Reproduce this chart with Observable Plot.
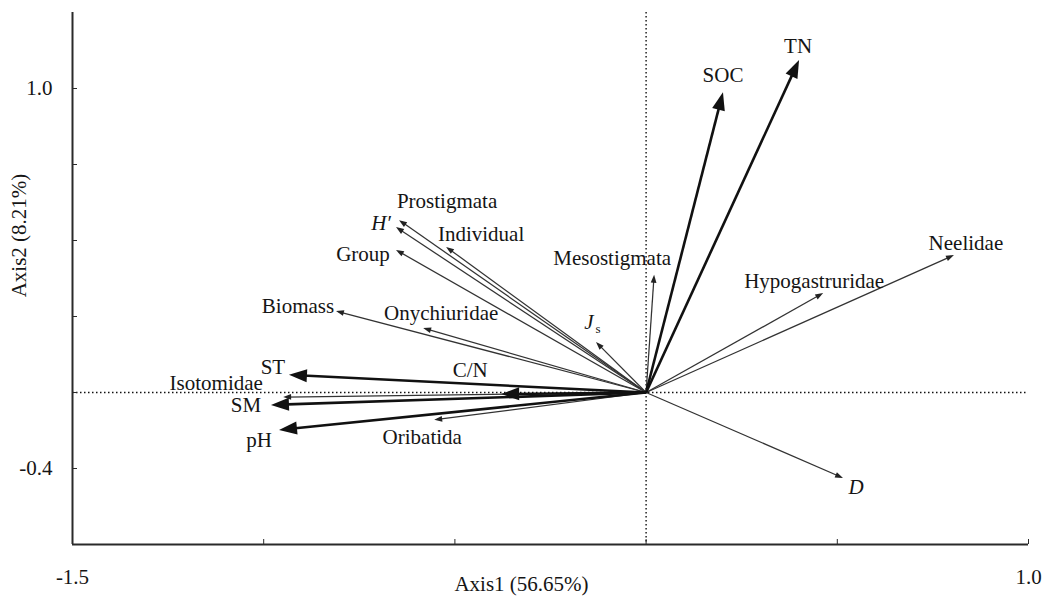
<!DOCTYPE html>
<html>
<head>
<meta charset="utf-8">
<script src="https://cdn.jsdelivr.net/npm/d3@7"></script>
<script src="https://cdn.jsdelivr.net/npm/@observablehq/plot@0.6"></script>
<style>
  html, body { margin: 0; padding: 0; background: #fff; }
  #chart svg { display: block; }
</style>
</head>
<body>
<div id="chart"></div>
<script>
// ---- Data (RDA biplot scores) ----
const names = ["TN", "SOC", "Mesostigmata", "Neelidae", "Hypogastruridae", "D", "J",
  "Prostigmata", "H′", "Individual", "Group", "Biomass", "Onychiuridae",
  "ST", "C/N", "Isotomidae", "SM", "pH", "Oribatida"];
const axis1 = [0.400, 0.201, 0.021, 0.805, 0.463, 0.515, -0.131,
  -0.646, -0.654, -0.523, -0.654, -0.811, -0.583,
  -0.934, -0.379, -0.949, -0.981, -0.960, -0.554];
const axis2 = [1.094, 0.988, 0.387, 0.452, 0.327, -0.281, 0.166,
  0.567, 0.544, 0.479, 0.469, 0.268, 0.212,
  0.058, -0.005, -0.015, -0.041, -0.123, -0.090];
const environmental = ["TN", "SOC", "ST", "C/N", "SM", "pH"];
const italicLabels = ["D", "J", "H′"];
const subscripts = {"J": "s"};

const xTicks = [-1.5, -1.0, -0.5, 0, 0.5, 1.0];
const xTickLabels = ["-1.5", "", "", "", "", "1.0"];
const yTicks = [1.0, 0.75, 0.5, 0.25, 0, -0.25];
const yTickLabels = ["1.0", "", "", "", "", "-0.4"];
const xTitle = "Axis1 (56.65%)";
const yTitle = "Axis2 (8.21%)";

// ---- Label nudges (pixels, styling only) ----
const labelNudge = {
  "TN": [-1, -14], "SOC": [0, -17], "Mesostigmata": [-42, -17], "Neelidae": [12, -12],
  "Hypogastruridae": [-9, -12], "D": [13, 9], "J": [-7, -20], "Prostigmata": [48, -19],
  "H′": [-15, -4], "Individual": [35, -13], "Group": [-33, 4], "Biomass": [-38, -5],
  "Onychiuridae": [18, -15], "ST": [-16, -8], "C/N": [-31, -24], "Isotomidae": [-67, -14],
  "SM": [-25, 0], "pH": [-20, 10], "Oribatida": [-12, 17]
};

// ---- Layout ----
const W = 1042, H = 599, ML = 72, MR = 14, MT = 12, MB = 55;
const xDomain = [-1.5, 1.0], yDomain = [-0.5, 1.25];
const kx = (W - ML - MR) / (xDomain[1] - xDomain[0]);
const ky = (H - MT - MB) / (yDomain[1] - yDomain[0]);
const FONT = "'Liberation Serif', 'Times New Roman', serif";
const FS = 21;
const INK = "#151515";

const rows = names.map((name, i) => {
  const x = axis1[i], y = axis2[i];
  const sx = x * kx, sy = -y * ky, len = Math.hypot(sx, sy);
  const env = environmental.includes(name);
  const back = env ? 9 : 3;
  return {
    name, x, y, env,
    angle: Math.atan2(sx, -sy) * 180 / Math.PI,
    xs: x - back * (sx / len) / kx,
    ys: y + back * (sy / len) / ky
  };
});

// arrowhead symbol: tip at the anchor point, pointing up before rotation
const headSymbol = {
  draw(ctx, size) {
    const r = Math.sqrt(size / Math.PI);
    ctx.moveTo(0, 0);
    ctx.lineTo(-r * 0.65, r * 1.8);
    ctx.lineTo(r * 0.65, r * 1.8);
    ctx.closePath();
  }
};

const envRows = rows.filter(d => d.env);
const bioRows = rows.filter(d => !d.env);

const textMarks = rows.map(d => {
  const [dx, dy] = labelNudge[d.name];
  return Plot.text([d], {
    x: "x", y: "y", text: "name", dx, dy,
    fontSize: FS, fill: INK,
    fontStyle: italicLabels.includes(d.name) ? "italic" : "normal"
  });
});
const subMarks = rows.filter(d => subscripts[d.name]).map(d => {
  const [dx, dy] = labelNudge[d.name];
  return Plot.text([d], {
    x: "x", y: "y", text: () => subscripts[d.name], dx: dx + 9, dy: dy + 7,
    fontSize: 13, fill: INK
  });
});

const chart = Plot.plot({
  width: W, height: H,
  marginLeft: ML, marginRight: MR, marginTop: MT, marginBottom: MB,
  style: {fontFamily: FONT, background: "#fff", color: INK},
  x: {domain: xDomain},
  y: {domain: yDomain},
  marks: [
    // zero lines (dotted)
    Plot.ruleX([0], {stroke: "#111", strokeWidth: 1.4, strokeDasharray: "1.5,2.5"}),
    Plot.ruleY([0], {stroke: "#111", strokeWidth: 1.4, strokeDasharray: "1.5,2.5"}),
    // axis lines
    Plot.ruleX([xDomain[0]], {stroke: "#2a2a2a", strokeWidth: 2}),
    Plot.ruleY([yDomain[0]], {stroke: "#2a2a2a", strokeWidth: 2}),
    // inward ticks
    Plot.axisX({ticks: xTicks, tickSize: -5, tickFormat: () => "", label: null, stroke: "#2a2a2a"}),
    Plot.axisY({ticks: yTicks, tickSize: -5, tickFormat: () => "", label: null, stroke: "#2a2a2a"}),
    // tick labels
    Plot.axisX({ticks: xTicks.filter((t, i) => xTickLabels[i]), tickSize: 0, tickPadding: 25,
      tickFormat: t => xTickLabels[xTicks.indexOf(t)], label: null, fontSize: FS}),
    Plot.axisY({ticks: yTicks.filter((t, i) => yTickLabels[i]), tickSize: 0, tickPadding: 20,
      tickFormat: t => yTickLabels[yTicks.indexOf(t)], label: null, fontSize: FS}),
    // axis titles
    Plot.text([xTitle], {frameAnchor: "bottom", dx: -29, dy: 46, fontSize: FS, fill: INK}),
    Plot.text([yTitle], {frameAnchor: "left", textAnchor: "middle", rotate: -90, dx: -53, dy: -43, fontSize: FS, fill: INK}),
    // arrow shafts
    Plot.link(bioRows, {x1: 0, y1: 0, x2: "xs", y2: "ys", stroke: "#333", strokeWidth: 1.25}),
    Plot.link(envRows, {x1: 0, y1: 0, x2: "xs", y2: "ys", stroke: "#111", strokeWidth: 2.6}),
    // arrow heads
    Plot.dot(bioRows, {x: "x", y: "y", r: 4.4, rotate: "angle", symbol: headSymbol, fill: "#222", stroke: "none"}),
    Plot.dot(envRows, {x: "x", y: "y", r: 10, rotate: "angle", symbol: headSymbol, fill: "#111", stroke: "none"}),
    ...textMarks,
    ...subMarks
  ]
});
document.getElementById("chart").appendChild(chart);
</script>
</body>
</html>
